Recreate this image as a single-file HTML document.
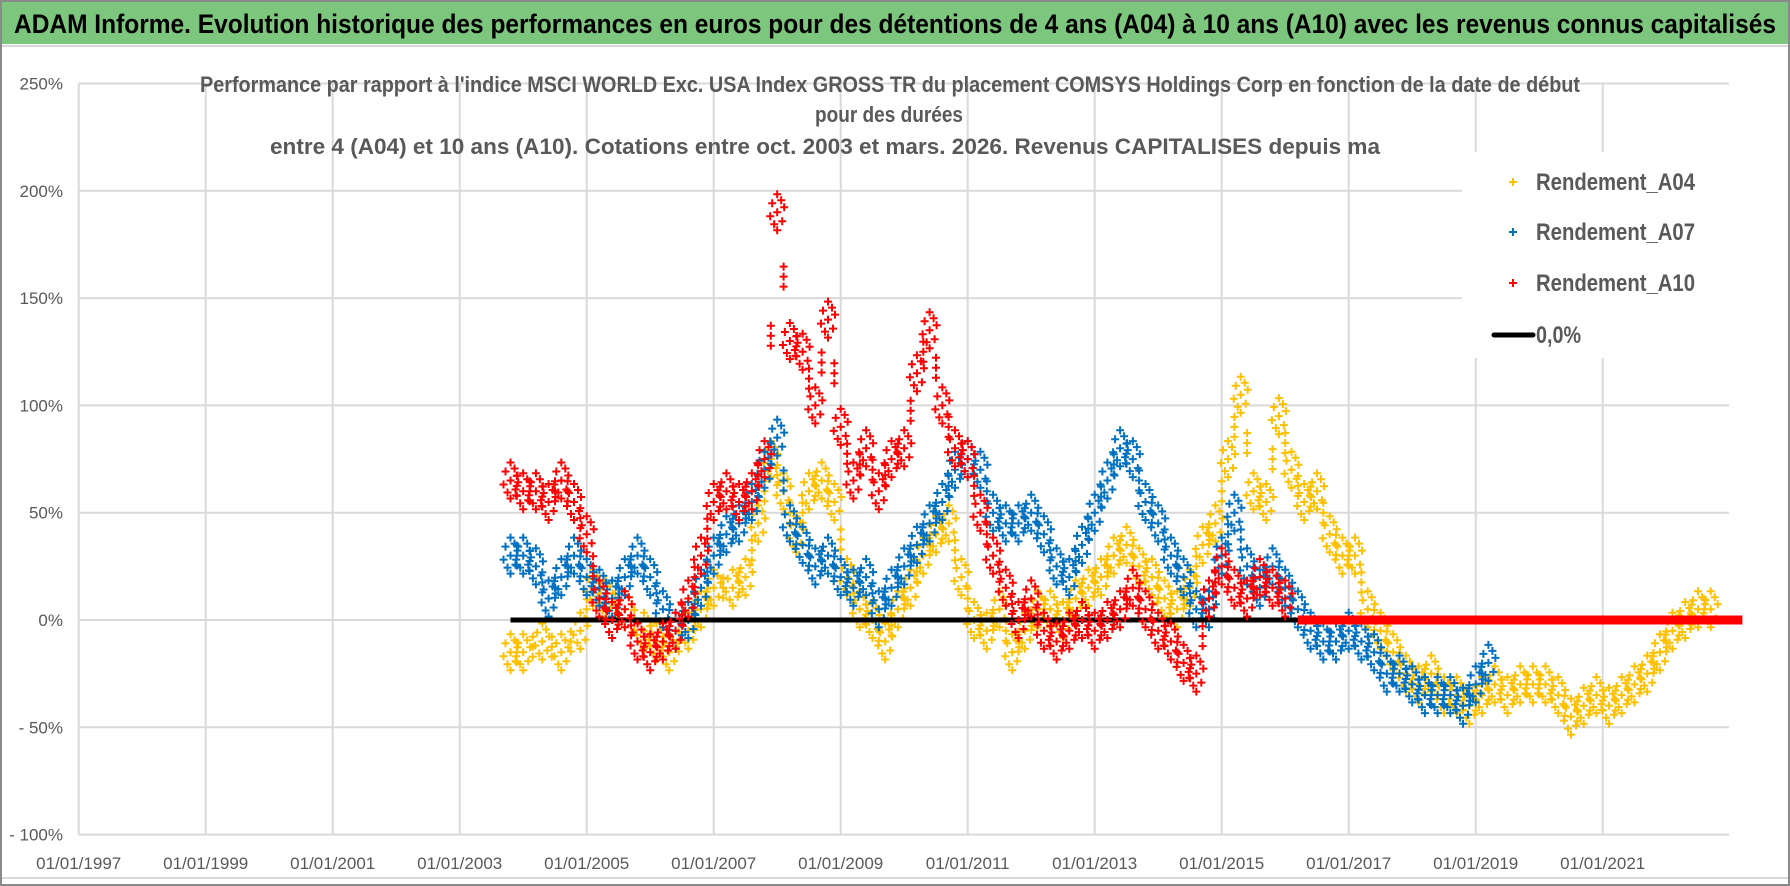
<!DOCTYPE html>
<html><head><meta charset="utf-8">
<style>
html,body{margin:0;padding:0;background:#fff;}
svg{display:block;font-family:"Liberation Sans",sans-serif;}
</style></head>
<body>
<svg id="chart" width="1790" height="886" viewBox="0 0 1790 886" xmlns="http://www.w3.org/2000/svg">
<rect x="0" y="0" width="1790" height="886" fill="#fff"/>
<rect x="1" y="1" width="1788" height="884" fill="none" stroke="#8a8a8a" stroke-width="2"/>
<rect x="2" y="2" width="1786" height="42" fill="#7dc67d"/>
<line x1="2" y1="46" x2="1788" y2="46" stroke="#d8d8d8" stroke-width="2"/>
<text x="14" y="33" font-size="27" font-weight="bold" fill="#000" textLength="1762" lengthAdjust="spacingAndGlyphs">ADAM Informe. Evolution historique des performances en euros pour des détentions de 4 ans (A04) à 10 ans (A10) avec les revenus connus capitalisés</text>
<line x1="2" y1="878" x2="1788" y2="878" stroke="#d8d8d8" stroke-width="2"/>
<g id="grid"></g>
<g id="series"></g>
<g id="axes"></g>
<rect x="1462" y="152" width="320" height="206" fill="#fff"/>
<g fill="#595959" font-weight="bold">
<text x="200" y="92" font-size="22" textLength="1380" lengthAdjust="spacingAndGlyphs">Performance par rapport à l'indice MSCI WORLD Exc. USA Index GROSS TR  du placement COMSYS Holdings Corp en fonction de la date de début</text>
<text x="815" y="122" font-size="22" textLength="148" lengthAdjust="spacingAndGlyphs">pour des durées</text>
<text x="270" y="154" font-size="22" textLength="1110" lengthAdjust="spacingAndGlyphs">entre 4 (A04) et 10 ans (A10).  Cotations entre oct. 2003 et mars. 2026. Revenus CAPITALISES depuis ma</text>
</g>
<g font-size="24" font-weight="bold" fill="#595959">
<g><path d="M1509 182h8M1513 178v8" stroke="#FFC000" stroke-width="2"/><text x="1536" y="190" textLength="159" lengthAdjust="spacingAndGlyphs">Rendement_A04</text></g>
<g><path d="M1509 232h8M1513 228v8" stroke="#0070C0" stroke-width="2"/><text x="1536" y="240" textLength="159" lengthAdjust="spacingAndGlyphs">Rendement_A07</text></g>
<g><path d="M1509 283h8M1513 279v8" stroke="#FF0000" stroke-width="2"/><text x="1536" y="291" textLength="159" lengthAdjust="spacingAndGlyphs">Rendement_A10</text></g>
<g><line x1="1494" y1="335" x2="1533" y2="335" stroke="#000" stroke-width="5" stroke-linecap="round"/><text x="1536" y="343" textLength="45" lengthAdjust="spacingAndGlyphs">0,0%</text></g>
</g>
</svg>
<script>
const yTicks = [250,200,150,100,50,0,-50,-100];
const yTickLabels = ["250%","200%","150%","100%","50%","0%","- 50%","- 100%"];
const xTickYears = [1997,1999,2001,2003,2005,2007,2009,2011,2013,2015,2017,2019,2021];
const xTickLabels = ["01/01/1997","01/01/1999","01/01/2001","01/01/2003","01/01/2005","01/01/2007","01/01/2009","01/01/2011","01/01/2013","01/01/2015","01/01/2017","01/01/2019","01/01/2021"];

const a04Dates = [2003.8,2004.0,2004.3,2004.6,2004.9,2005.1,2005.3,2005.6,2005.9,2006.1,2006.3,2006.6,2006.8,2007.0,2007.3,2007.5,2007.7,2007.9,2008.1,2008.3,2008.5,2008.7,2008.9,2009.1,2009.3,2009.5,2009.7,2009.9,2010.1,2010.3,2010.5,2010.7,2010.9,2011.1,2011.3,2011.5,2011.7,2011.9,2012.1,2012.3,2012.5,2012.7,2012.9,2013.1,2013.3,2013.5,2013.7,2013.9,2014.1,2014.3,2014.5,2014.7,2014.9,2015.1,2015.3,2015.5,2015.7,2015.9,2016.1,2016.3,2016.5,2016.7,2016.9,2017.1,2017.3,2017.5,2017.7,2017.9,2018.1,2018.3,2018.5,2018.7,2018.9,2019.1,2019.3,2019.5,2019.7,2019.9,2020.1,2020.3,2020.5,2020.7,2020.9,2021.1,2021.3,2021.5,2021.7,2021.9,2022.1,2022.3,2022.5,2022.7];
const a04Values = [-15,-15,-10,-15,-5,15,10,5,-5,-10,-15,-5,5,15,15,20,45,75,60,40,60,65,55,20,5,0,-10,5,15,30,40,45,20,0,-5,5,-15,-5,5,5,0,10,15,20,30,35,25,20,10,5,15,35,45,75,105,60,55,95,70,55,60,40,30,30,5,-5,-15,-25,-30,-25,-35,-35,-40,-35,-30,-35,-30,-30,-30,-35,-45,-40,-35,-40,-35,-30,-25,-15,-5,0,5,5];

const a07Dates = [2003.8,2004.0,2004.2,2004.4,2004.6,2004.8,2005.0,2005.2,2005.4,2005.6,2005.8,2006.0,2006.2,2006.4,2006.6,2006.8,2007.0,2007.2,2007.4,2007.6,2007.8,2008.0,2008.2,2008.4,2008.6,2008.8,2009.0,2009.2,2009.4,2009.6,2009.8,2010.0,2010.2,2010.4,2010.6,2010.8,2011.0,2011.2,2011.4,2011.6,2011.8,2012.0,2012.2,2012.4,2012.6,2012.8,2013.0,2013.2,2013.4,2013.6,2013.8,2014.0,2014.2,2014.4,2014.6,2014.8,2015.0,2015.2,2015.4,2015.6,2015.8,2016.0,2016.2,2016.4,2016.6,2016.8,2017.0,2017.2,2017.4,2017.6,2017.8,2018.0,2018.2,2018.4,2018.6,2018.8,2019.0,2019.2];
const a07Values = [30,30,25,10,20,30,20,15,10,20,30,20,5,-5,0,15,30,40,45,55,70,85,45,35,25,30,20,15,20,5,15,25,35,45,55,70,75,70,50,45,45,50,40,25,20,35,50,65,80,75,55,45,30,20,5,5,30,50,25,15,25,15,5,-5,-10,-10,-5,-10,-15,-25,-25,-30,-35,-35,-35,-40,-30,-20];

const a10Dates = [2003.8,2004.0,2004.2,2004.4,2004.6,2004.8,2005.0,2005.2,2005.4,2005.6,2005.8,2006.0,2006.2,2006.4,2006.6,2006.8,2007.0,2007.2,2007.4,2007.6,2007.8,2008.0,2008.2,2008.4,2008.6,2008.8,2009.0,2009.2,2009.4,2009.6,2009.8,2010.0,2010.2,2010.4,2010.6,2010.8,2011.0,2011.2,2011.4,2011.6,2011.8,2012.0,2012.2,2012.4,2012.6,2012.8,2013.0,2013.2,2013.4,2013.6,2013.8,2014.0,2014.2,2014.4,2014.6,2014.8,2015.0,2015.2,2015.4,2015.6,2015.8,2016.0,2016.2];
const a10Values = [65,60,60,55,65,55,40,10,0,5,-10,-15,-10,-5,10,30,55,60,55,60,75,190,130,125,100,140,90,65,80,60,75,80,115,135,100,80,75,50,30,15,0,10,-5,-10,-5,0,-5,0,5,15,5,-5,-10,-20,-25,10,25,15,10,20,15,10];
const a10FlatDates = [2016.2,2016.6,2017.0,2017.4,2017.8,2018.2,2018.6,2019.0,2019.4,2019.8,2020.2,2020.6,2021.0,2021.4,2021.8,2022.2,2022.6,2023.0,2023.2];
const a10FlatValues = [0,0,0,0,0,0,0,0,0,0,0,0,0,0,0,0,0,0,0];

const zeroDates = [2003.8,2016.3];
const zeroValues = [0,0];

const NS = "http://www.w3.org/2000/svg";
function xs(year){ return 78.7 + (year - 1997) * 63.5; }
function ys(v){ return 620 - v * 2.146; }
function mk(tag, attrs, parent){ const e = document.createElementNS(NS, tag); for (const k in attrs) e.setAttribute(k, attrs[k]); parent.appendChild(e); return e; }

const grid = document.getElementById('grid');
const axes = document.getElementById('axes');
const ser = document.getElementById('series');
const X0 = 78.7, X1 = 1729;

yTicks.forEach((t, i) => {
  const gl = mk('line', {x1: X0, x2: X1, y1: ys(t), y2: ys(t), stroke: '#d9d9d9', 'stroke-width': 2}, grid);
  
  
  const lb = mk('text', {x: 63, y: ys(t) + 6, 'text-anchor': 'end', 'font-size': 17, fill: '#595959'}, axes);
  lb.textContent = yTickLabels[i];
  
  
});
xTickYears.forEach((yr, i) => {
  const gl = mk('line', {x1: xs(yr), x2: xs(yr), y1: ys(250), y2: ys(-100), stroke: '#d9d9d9', 'stroke-width': 2}, grid);
  
  
  const lb = mk('text', {x: xs(yr), y: 869, 'text-anchor': 'middle', 'font-size': 17, fill: '#595959'}, axes);
  lb.textContent = xTickLabels[i];
  
  
});

const offs = [[0,0],[-5,-9],[5,9],[-3,12],[4,-12],[-7,4],[7,-5],[0,-18],[0,18]];
function scatter(dates, vals, color, name, useOffs){
  const g = mk('g', {stroke: color, 'stroke-width': 2}, ser);
  
  
  let d = '';
  dates.forEach((dt, i) => {
    const cx = xs(dt), cy = ys(vals[i]);
    const list = useOffs ? offs : [[0,0]];
    list.forEach(o => {
      const px = cx + o[0], py = cy + o[1];
      d += `M${(px-4).toFixed(1)} ${py.toFixed(1)}h8M${px.toFixed(1)} ${(py-4).toFixed(1)}v8`;
    });
    if (useOffs && i < dates.length - 1) {
      const mx = (cx + xs(dates[i+1])) / 2, my = (cy + ys(vals[i+1])) / 2;
      [[0,0],[0,-10],[0,10]].forEach(o => {
        d += `M${(mx-4).toFixed(1)} ${(my+o[1]).toFixed(1)}h8M${mx.toFixed(1)} ${(my+o[1]-4).toFixed(1)}v8`;
      });
    }
  });
  const p = mk('path', {d: d, fill: 'none'}, g);
  
  
}
scatter(a04Dates, a04Values, '#FFC000', 'series-a04', true);
scatter(a07Dates, a07Values, '#0070C0', 'series-a07', true);

const zl = mk('line', {x1: xs(zeroDates[0]), x2: xs(zeroDates[1]), y1: ys(zeroValues[0]), y2: ys(zeroValues[1]), stroke: '#000', 'stroke-width': 5}, ser);



scatter(a10Dates, a10Values, '#FF0000', 'series-a10', true);
const fl = mk('polyline', {points: a10FlatDates.map((d, i) => xs(d) + ',' + ys(a10FlatValues[i])).join(' '), stroke: '#FF0000', 'stroke-width': 9, fill: 'none'}, ser);


</script>
</body></html>
